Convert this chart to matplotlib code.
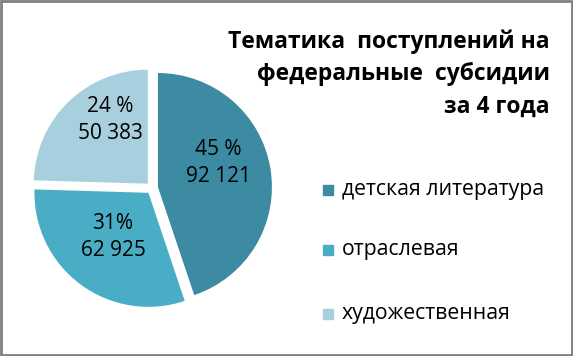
import matplotlib
matplotlib.use("Agg")
import matplotlib.pyplot as plt
from matplotlib.patches import Rectangle

plt.rcParams['font.family'] = ['Open Sans', 'DejaVu Sans']

# data
categories = ['детская литература', 'отраслевая', 'художественная']
values = [92121, 62925, 50383]
pct_labels = ['45 %', '31%', '24 %']
value_labels = ['92 121', '62 925', '50 383']
colors = ['#3d8ba3', '#4aadc6', '#a8cfdd']
title = 'Тематика  поступлений на\nфедеральные  субсидии\nза 4 года'

W, H = 573, 356
fig = plt.figure(figsize=(W / 100, H / 100), dpi=100)
fig.patch.set_facecolor('white')
ax = fig.add_axes([0, 0, 1, 1])

wedges, _ = ax.pie(values, colors=colors, startangle=90, counterclock=False,
                   radius=114, center=(152, H - 188),
                   explode=[6, 6, 6], frame=True,
                   wedgeprops=dict(linewidth=0))
ax.set_xlim(0, W)
ax.set_ylim(0, H)
ax.set_aspect('equal')
ax.axis('off')

# pie labels (pixel positions)
label_pos = [(218, 163), (113, 237), (110, 120)]
for (x, y), p, v in zip(label_pos, pct_labels, value_labels):
    ax.text(x, H - y, p + '\n' + v, ha='center', va='center', fontsize=15,
            linespacing=1.42, color='black')

# title
ax.text(550, H - 74, title, ha='right', va='center', fontsize=16.5,
        fontweight='bold', linespacing=1.45)

# legend
leg_y = [190, 250, 314]
for c, name, y in zip(colors, categories, leg_y):
    ax.add_patch(Rectangle((323, H - y - 5), 10, 10, color=c))
    ax.text(342, H - y, name, ha='left', va='center', fontsize=15.3)

# border
ax.add_patch(Rectangle((1, 1), W - 2.5, H - 2, fill=False,
                       edgecolor='#808080', linewidth=2))

fig.savefig('out.png', dpi=100)
